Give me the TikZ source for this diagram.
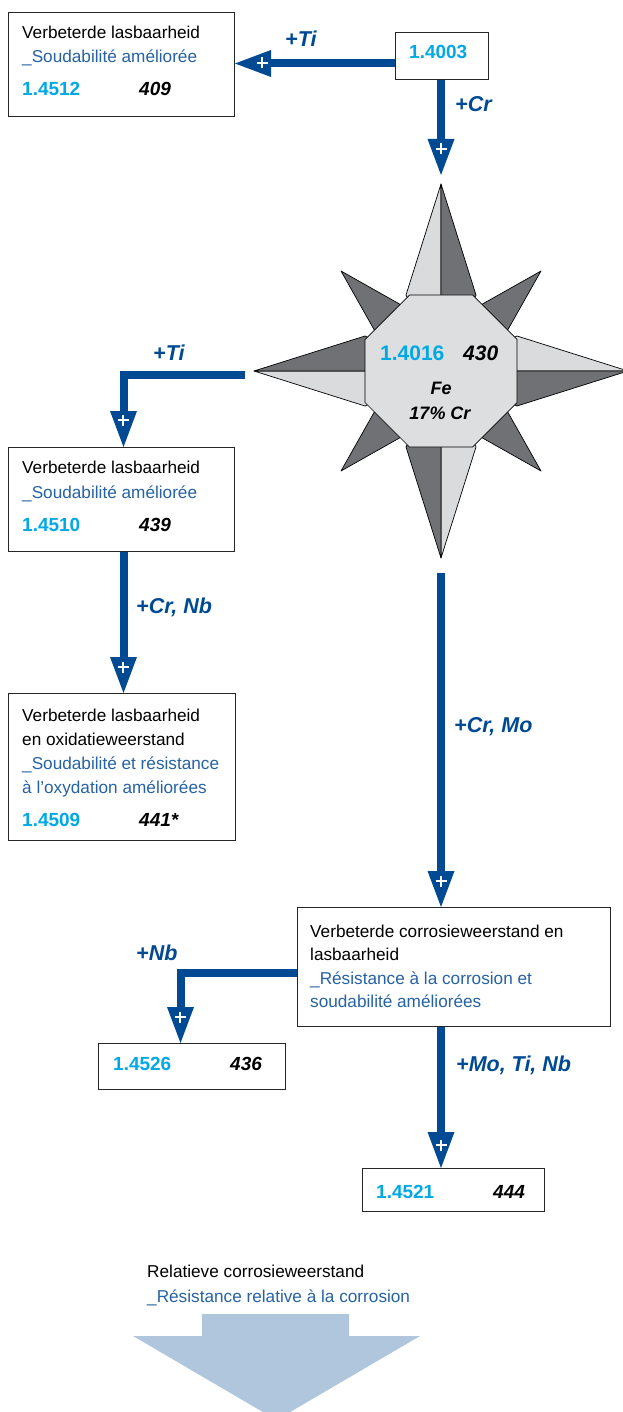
\documentclass[tikz,border=0pt]{standalone}
\usepackage{fontspec}
\setmainfont{Liberation Sans}
\usetikzlibrary{arrows.meta}

\definecolor{arrowblue}{RGB}{0,74,147}
\definecolor{textblue}{RGB}{38,98,165}
\definecolor{numcyan}{RGB}{0,169,228}
\definecolor{starlight}{RGB}{218,219,221}
\definecolor{stardark}{RGB}{112,113,117}
\definecolor{octfill}{RGB}{221,222,224}
\definecolor{bigarrow}{RGB}{175,198,221}

\tikzset{
  box/.style={draw=black!85, line width=1pt, fill=white, anchor=north west, inner sep=0pt},
  nl/.style={anchor=base west, inner sep=0pt, font=\fontsize{17.2}{20}\selectfont},
  fr/.style={nl, text=textblue},
  num/.style={anchor=base west, inner sep=0pt, font=\fontsize{19}{20}\selectfont\bfseries, text=numcyan},
  code/.style={anchor=base west, inner sep=0pt, font=\fontsize{19}{20}\selectfont\bfseries\itshape},
  startext/.style={anchor=base, inner sep=0pt, font=\fontsize{18}{20}\selectfont\bfseries\itshape},
  elem/.style={anchor=base west, inner sep=0pt, font=\fontsize{21.5}{20}\selectfont\bfseries\itshape, text=arrowblue},
  conn/.style={draw=arrowblue, line width=8pt,
    -{Triangle[length=36pt,width=27pt,line width=0pt]}},
  plusmark/.pic={\draw[white, line width=2.3pt] (-5.5,0) -- (5.5,0) (0,-5.5) -- (0,5.5);},
  startri/.style={draw=black, line width=0.7pt, line join=round},
}

\begin{document}
\begin{tikzpicture}[x=1pt, y=-1pt]
\useasboundingbox (0,0) rectangle (623,1412);
\clip (0,0) rectangle (623,1412);

% ---------- compass star (Fe, 17% Cr) ----------
\begin{scope}[shift={(441,371)}]
  % short diagonal points
  \foreach \sx/\sy in {-1/-1, 1/-1, 1/1, -1/1}{
    \fill[stardark, startri]
      (100*\sx,100*\sy) -- ({(54.4-12.7)*\sx},{(54.4+12.7)*\sy}) -- (0,0)
      -- ({(54.4+12.7)*\sx},{(54.4-12.7)*\sy}) -- cycle;
  }
  % long points, each split into a light and a dark half
  \filldraw[fill=starlight, startri] (0,-187) -- (-35,-76) -- (0,0) -- cycle;
  \filldraw[fill=stardark,  startri] (0,-187) -- (35,-76) -- (0,0) -- cycle;
  \filldraw[fill=starlight, startri] (187,0) -- (76,-35) -- (0,0) -- cycle;
  \filldraw[fill=stardark,  startri] (187,0) -- (76,35) -- (0,0) -- cycle;
  \filldraw[fill=starlight, startri] (0,187) -- (35,76) -- (0,0) -- cycle;
  \filldraw[fill=stardark,  startri] (0,187) -- (-35,76) -- (0,0) -- cycle;
  \filldraw[fill=starlight, startri] (-187,0) -- (-76,35) -- (0,0) -- cycle;
  \filldraw[fill=stardark,  startri] (-187,0) -- (-76,-35) -- (0,0) -- cycle;
  % central octagon
  \filldraw[fill=octfill, startri]
    (76,31.5) -- (31.5,76) -- (-31.5,76) -- (-76,31.5)
    -- (-76,-31.5) -- (-31.5,-76) -- (31.5,-76) -- (76,-31.5) -- cycle;
\end{scope}
\coordinate (starN) at (441,183);
\coordinate (starS) at (441,558);
\coordinate (starW) at (253,371);

\node[anchor=base west, inner sep=0pt, font=\fontsize{21}{20}\selectfont\bfseries, text=numcyan] (t4016) at (380,360) {1.4016};
\node[anchor=base west, inner sep=0pt, font=\fontsize{21}{20}\selectfont\bfseries\itshape] (c430) at (463,360) {430};
\node[startext] (tFe) at (441,394) {Fe};
\node[startext] (tCr) at (440,419) {17\% Cr};

% ---------- boxes ----------
\node[box, minimum width=93pt, minimum height=47pt] (b4003) at (395,32) {};
\node[num] (t4003) at (409,59) {1.4003};

\node[box, minimum width=226pt, minimum height=104pt] (b4512) at (8,12) {};
\node[nl] (l4512a) at (22,39) {Verbeterde lasbaarheid};
\node[fr] (l4512b) at (22,63) {\_Soudabilité améliorée};
\node[num] (t4512) at (22,96) {1.4512};
\node[code] (c409) at (139,96) {409};

\node[box, minimum width=226pt, minimum height=104pt] (b4510) at (8,447) {};
\node[nl] (l4510a) at (22,473) {Verbeterde lasbaarheid};
\node[fr] (l4510b) at (22,498) {\_Soudabilité améliorée};
\node[num] (t4510) at (22,531) {1.4510};
\node[code] (c439) at (139,531) {439};

\node[box, minimum width=227pt, minimum height=147pt] (b4509) at (8,693) {};
\node[nl] (l4509a) at (22,721) {Verbeterde lasbaarheid};
\node[nl] (l4509b) at (22,745) {en oxidatieweerstand};
\node[fr] (l4509c) at (22,769) {\_Soudabilité et résistance};
\node[fr] (l4509d) at (22,793) {à l’oxydation améliorées};
\node[num] (t4509) at (22,826) {1.4509};
\node[code] (c441) at (139,826) {441*};

\node[box, minimum width=313pt, minimum height=119pt] (bmo) at (297,907) {};
\node[nl] (lmoa) at (310,937) {Verbeterde corrosieweerstand en};
\node[nl] (lmob) at (310,960) {lasbaarheid};
\node[fr] (lmoc) at (310,984) {\_Résistance à la corrosion et};
\node[fr] (lmod) at (310,1007) {soudabilité améliorées};

\node[box, minimum width=187pt, minimum height=46pt] (b4526) at (98,1043) {};
\node[num] (t4526) at (113,1070) {1.4526};
\node[code] (c436) at (230,1070) {436};

\node[box, minimum width=182pt, minimum height=43pt] (b4521) at (362,1168) {};
\node[num] (t4521) at (376,1198) {1.4521};
\node[code] (c444) at (493,1198) {444};

% ---------- alloying connectors ----------
\draw[conn] ([yshift=-7.5pt]b4003.west) -- ([yshift=-7.5pt]b4003.west -| b4512.east);
\pic at (262,63) {plusmark};
\node[elem] (eTi1) at (285,47) {+Ti};

\draw[conn] (b4003.south -| starN) -- ([yshift=8pt]starN);
\pic at (441,149) {plusmark};
\node[elem] (eCr) at (455,112) {+Cr};

\draw[conn] ([shift={(-8pt,-4pt)}]starW) -| ([xshift=2pt]b4510.north);
\pic at (123,420) {plusmark};
\node[elem] (eTi2) at (153,360) {+Ti};

\draw[conn] ([xshift=2pt]b4510.south) -- ([xshift=1.5pt]b4509.north);
\pic at (123,667) {plusmark};
\node[elem] (eCrNb) at (136,613) {+Cr, Nb};

\draw[conn] ([yshift=-15pt]starS) -- (starS |- bmo.north);
\pic at (441,881) {plusmark};
\node[elem] (eCrMo) at (454,732) {+Cr, Mo};

\draw[conn] ([yshift=-5.5pt]bmo.west) -| ([xshift=-11.5pt]b4526.north);
\pic at (180,1017) {plusmark};
\node[elem] (eNb) at (136,960) {+Nb};

\draw[conn] (bmo.south -| starS) -- (b4521.north -| starS);
\pic at (441,1145) {plusmark};
\node[elem] (eMoTiNb) at (456,1071) {+Mo, Ti, Nb};

% ---------- relative corrosion resistance ----------
\node[nl] (lrela) at (147,1277) {Relatieve corrosieweerstand};
\node[fr] (lrelb) at (147,1302) {\_Résistance relative à la corrosion};
\fill[bigarrow] (202,1314) -- (349,1314) -- (349,1336) -- (420,1336)
  -- (276.5,1420) -- (133,1336) -- (202,1336) -- cycle;
\end{tikzpicture}
\end{document}
